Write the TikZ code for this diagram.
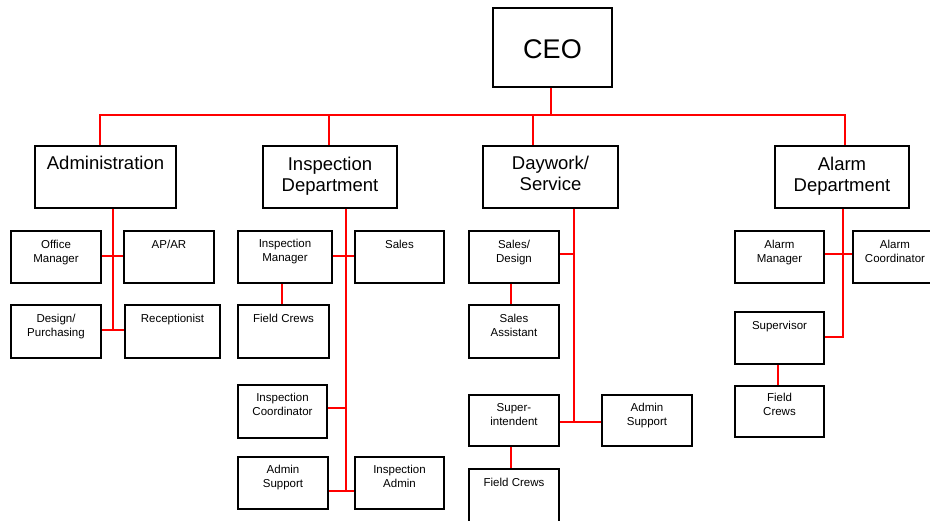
\documentclass[tikz,border=0pt]{standalone}
\usepackage{fontspec}
\setmainfont{Liberation Sans}
\newcommand\mkbox[5]{%
  \pgfmathsetmacro\bxw{#4-#2}\pgfmathsetmacro\bxh{#5-#3}%
  \node[box,minimum width=\bxw pt,minimum height=\bxh pt] (#1) at ({(#2+#4)/2},{(#3+#5)/2}) {};}
\begin{document}
\begin{tikzpicture}[x=1pt,y=-1pt,
  box/.style={draw=black,line width=1.8pt,inner sep=0pt,fill=white},
  conn/.style={draw=red,line width=1.8pt},
  deptxt/.style={anchor=north,inner sep=0pt,align=center,font=\fontsize{18.5}{21}\selectfont},
  subtxt/.style={anchor=north,inner sep=0pt,align=center,font=\fontsize{11.5}{14}\selectfont}]
\useasboundingbox (0,0) rectangle (930,521);
\clip (0,0) rectangle (930,521);
% coordinates for connectors
\coordinate (busL) at (100,115);
\coordinate (busR) at (845,115);
\coordinate (b2) at (329,115);
\coordinate (b3) at (533,115);
\coordinate (ceoX) at (551,115);
\coordinate (a1) at (113,256);
\coordinate (a2) at (113,330);
\coordinate (i1) at (346,256);
\coordinate (i2) at (346,408);
\coordinate (i3) at (346,491);
\coordinate (fx) at (282,0);
\coordinate (d1) at (574,254);
\coordinate (d2) at (574,422);
\coordinate (dx) at (511,0);
\coordinate (l1) at (843,254);
\coordinate (l2) at (843,337);
\coordinate (lx) at (778,0);
% boxes
\mkbox{ceo}{493}{8}{612}{87}
\mkbox{adm}{35}{146}{176}{208}
\mkbox{insp}{263}{146}{397}{208}
\mkbox{dw}{483}{146}{618}{208}
\mkbox{alm}{775}{146}{909}{208}
\mkbox{om}{11}{231}{101}{283}
\mkbox{apar}{124}{231}{214}{283}
\mkbox{dp}{11}{305}{101}{358}
\mkbox{rec}{125}{305}{220}{358}
\mkbox{im}{238}{231}{332}{283}
\mkbox{sales}{355}{231}{444}{283}
\mkbox{fca}{238}{305}{329}{358}
\mkbox{ic}{238}{385}{327}{438}
\mkbox{asa}{238}{457}{328}{509}
\mkbox{ia}{355}{457}{444}{509}
\mkbox{sd}{469}{231}{559}{283}
\mkbox{sa}{469}{305}{559}{358}
\mkbox{si}{469}{395}{559}{446}
\mkbox{asb}{602}{395}{692}{446}
\mkbox{fcb}{469}{469}{559}{535}
\mkbox{amgr}{735}{231}{824}{283}
\mkbox{acoord}{853}{231}{937}{283}
\mkbox{sup}{735}{312}{824}{364}
\mkbox{fcc}{735}{386}{824}{437}
% connectors
\draw[conn] (ceo.south -| ceoX) -- (ceoX);
\draw[conn] (adm.north -| busL) -- (busL) -- (busR) -- (alm.north -| busR);
\draw[conn] (b2) -- (insp.north -| b2);
\draw[conn] (b3) -- (dw.north -| b3);
\draw[conn] (adm.south -| a2) -- (a2);
\draw[conn] (om.east |- a1) -- (apar.west |- a1);
\draw[conn] (dp.east |- a2) -- (rec.west |- a2);
\draw[conn] (insp.south -| i3) -- (i3);
\draw[conn] (im.east |- i1) -- (sales.west |- i1);
\draw[conn] (ic.east |- i2) -- (i2);
\draw[conn] (asa.east |- i3) -- (ia.west |- i3);
\draw[conn] (im.south -| fx) -- (fca.north -| fx);
\draw[conn] (dw.south -| d2) -- (d2);
\draw[conn] (sd.east |- d1) -- (d1);
\draw[conn] (si.east |- d2) -- (asb.west |- d2);
\draw[conn] (sd.south -| dx) -- (sa.north -| dx);
\draw[conn] (si.south -| dx) -- (fcb.north -| dx);
\draw[conn] (alm.south -| l2) -- (l2) -- (sup.east |- l2);
\draw[conn] (amgr.east |- l1) -- (acoord.west |- l1);
\draw[conn] (sup.south -| lx) -- (fcc.north -| lx);
% texts
\node[inner sep=0pt,font=\fontsize{27}{30}\selectfont] (ceo-t) at ([yshift=-2pt]ceo.center) {CEO};
\node[deptxt] (adm-t) at ([yshift=-11pt]adm.north) {Administration};
\node[deptxt] (insp-t) at ([yshift=-11.5pt]insp.north) {Inspection\\Department};
\node[deptxt] (dw-t) at ([yshift=-11pt]dw.north) {Daywork/\\Service};
\node[deptxt] (alm-t) at ([yshift=-11.5pt]alm.north) {Alarm\\Department};
\node[subtxt] (om-t) at ([yshift=-10pt]om.north) {Office\\Manager};
\node[subtxt] (apar-t) at ([yshift=-10pt]apar.north) {AP/AR};
\node[subtxt] (dp-t) at ([yshift=-10pt]dp.north) {Design/\\Purchasing};
\node[subtxt] (rec-t) at ([yshift=-10pt]rec.north) {Receptionist};
\node[subtxt] (im-t) at ([yshift=-9pt]im.north) {Inspection\\Manager};
\node[subtxt] (sales-t) at ([yshift=-10pt]sales.north) {Sales};
\node[subtxt] (fca-t) at ([yshift=-10pt]fca.north) {Field Crews};
\node[subtxt] (ic-t) at ([yshift=-9pt]ic.north) {Inspection\\Coordinator};
\node[subtxt] (asa-t) at ([yshift=-9pt]asa.north) {Admin\\Support};
\node[subtxt] (ia-t) at ([yshift=-9pt]ia.north) {Inspection\\Admin};
\node[subtxt] (sd-t) at ([yshift=-10pt]sd.north) {Sales/\\Design};
\node[subtxt] (sa-t) at ([yshift=-10pt]sa.north) {Sales\\Assistant};
\node[subtxt] (si-t) at ([yshift=-9pt]si.north) {Super-\\intendent};
\node[subtxt] (asb-t) at ([yshift=-9pt]asb.north) {Admin\\Support};
\node[subtxt] (fcb-t) at ([yshift=-10pt]fcb.north) {Field Crews};
\node[subtxt] (amgr-t) at ([yshift=-10pt]amgr.north) {Alarm\\Manager};
\node[subtxt] (acoord-t) at ([yshift=-10pt]acoord.north) {Alarm\\Coordinator};
\node[subtxt] (sup-t) at ([yshift=-10pt]sup.north) {Supervisor};
\node[subtxt] (fcc-t) at ([yshift=-8pt]fcc.north) {Field\\Crews};
\end{tikzpicture}
\end{document}
